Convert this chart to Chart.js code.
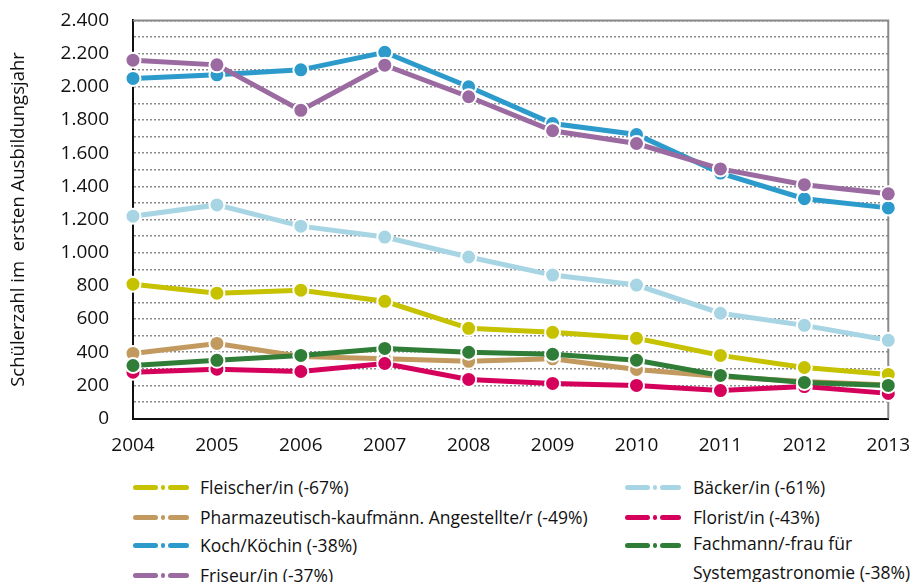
<!DOCTYPE html>
<html lang="de">
<head>
<meta charset="UTF-8">
<title>Schülerzahl</title>
<script src="https://cdn.jsdelivr.net/npm/chart.js"></script>
<style>
  body { margin: 0; background: #fff; font-family: "Open Sans", sans-serif; color: #111; overflow: hidden; }
  #wrap { position: relative; width: 918px; height: 582px; overflow: hidden; }
  #chart { position: absolute; left: 0; top: -15px; }
  .leg { position: absolute; font-size: 17.5px; line-height: 20px; white-space: nowrap; }
  .icon { position: absolute; height: 5px; }
  .icon span { position: absolute; top: 0; height: 5px; border-radius: 2.5px; }
</style>
</head>
<body>
<div id="wrap">
  <canvas id="chart" width="918" height="469"></canvas>
  <div id="legend"></div>
</div>
<script>
const years = ['2004','2005','2006','2007','2008','2009','2010','2011','2012','2013'];

const fleischer = [810, 756, 774, 707, 544, 520, 484, 381, 308, 266];
const pharma    = [393, 453, 375, 360, 345, 360, 296, 254, 224, 202];
const koch      = [2050, 2072, 2102, 2208, 2000, 1778, 1712, 1480, 1325, 1270];
const friseur   = [2160, 2132, 1858, 2130, 1940, 1735, 1658, 1505, 1410, 1355];
const baecker   = [1220, 1288, 1160, 1094, 974, 865, 805, 635, 562, 472];
const florist   = [280, 298, 284, 332, 236, 212, 200, 169, 193, 152];
const fachmann  = [320, 351, 381, 423, 400, 388, 352, 260, 218, 200];

const yTitle = 'Schülerzahl im  ersten Ausbildungsjahr';

// legend order (left column first, then right column)
const series = [
  { label: 'Fleischer/in (-67%)', data: fleischer, color: '#c6c200', col: 0, row: 0 },
  { label: 'Pharmazeutisch-kaufmänn. Angestellte/r (-49%)', data: pharma, color: '#c29a5f', col: 0, row: 1 },
  { label: 'Koch/Köchin (-38%)', data: koch, color: '#2c9bcb', col: 0, row: 2 },
  { label: 'Friseur/in (-37%)', data: friseur, color: '#9a6aa0', col: 0, row: 3 },
  { label: 'Bäcker/in (-61%)', data: baecker, color: '#a8d5e4', col: 1, row: 0 },
  { label: 'Florist/in (-43%)', data: florist, color: '#d4005b', col: 1, row: 1 },
  { label: 'Fachmann/-frau für<br>Systemgastronomie (-38%)', data: fachmann, color: '#2f7d36', col: 1, row: 2 }
];

// which series sits on top (lower = on top)
const drawOrder = [5, 6, 1, 0, 4, 3, 2];

const fmt = v => String(v).replace(/\B(?=(\d{3})+(?!\d))/g, '.');

// gray frame on top and right of the plot
const frame = {
  id: 'frame',
  beforeDatasetsDraw(chart) {
    const a = chart.chartArea, ctx = chart.ctx;
    ctx.save();
    ctx.strokeStyle = '#8a8a8a';
    ctx.lineWidth = 2;
    ctx.beginPath();
    ctx.moveTo(a.left, a.top);
    ctx.lineTo(a.right, a.top);
    ctx.lineTo(a.right, a.bottom);
    ctx.stroke();
    ctx.restore();
  }
};

const chart = new Chart('chart', {
  type: 'line',
  data: {
    labels: years,
    datasets: series.map((s, i) => ({
      label: s.label,
      data: s.data,
      borderColor: s.color,
      backgroundColor: s.color,
      pointBackgroundColor: s.color,
      pointBorderColor: '#fff',
      pointBorderWidth: 2,
      pointRadius: 7.5,
      borderWidth: 5,
      fill: false,
      tension: 0,
      clip: false,
      order: drawOrder[i]
    }))
  },
  options: {
    responsive: false,
    animation: false,
    layout: { padding: { left: 8, right: 25, top: 0, bottom: 0 } },
    plugins: { legend: { display: false }, tooltip: { enabled: false } },
    scales: {
      x: {
        offset: false,
        grid: { display: false },
        border: { color: '#111', width: 2 },
        ticks: { color: '#111', padding: 8, font: { family: 'Open Sans', size: 19 }, maxRotation: 0 },
        afterFit: s => { s.height = 33; }
      },
      y: {
        min: 0,
        max: 2400,
        grid: { color: '#8a8a8a', lineWidth: 1.5, drawTicks: false },
        border: { color: '#111', width: 2, dash: [2, 2] },
        ticks: {
          stepSize: 100,
          autoSkip: false,
          padding: 24,
          color: '#111',
          font: { family: 'Open Sans', size: 19 },
          callback: v => (v % 200 === 0 ? fmt(v) : '')
        },
        title: { display: true, text: yTitle, color: '#111', font: { family: 'Open Sans', size: 18.5 }, padding: 0 },
        afterFit: s => { s.width = 125; }
      }
    }
  },
  plugins: [frame]
});

// legend
const legend = document.getElementById('legend');
const colX = [[133, 200], [625, 693]];
const rowY = [475, 505, 533, 563];
series.forEach(s => {
  const [ix, tx] = colX[s.col];
  const y = rowY[s.row];
  const icon = document.createElement('div');
  icon.className = 'icon';
  icon.style.left = ix + 'px';
  icon.style.top = (y + 10) + 'px';
  icon.innerHTML =
    `<span style="left:0;width:25px;background:${s.color}"></span>` +
    `<span style="left:28px;width:4px;background:${s.color}"></span>` +
    `<span style="left:35px;width:21px;background:${s.color}"></span>`;
  legend.appendChild(icon);
  const t = document.createElement('div');
  t.className = 'leg';
  t.style.left = tx + 'px';
  t.style.top = y + 'px';
  if (s.row === 2 && s.col === 1) {
    t.style.lineHeight = '29px';
    t.style.top = (y - 4) + 'px';
  } else {
    t.style.lineHeight = '24px';
  }
  t.innerHTML = s.label;
  legend.appendChild(t);
});
</script>
</body>
</html>
